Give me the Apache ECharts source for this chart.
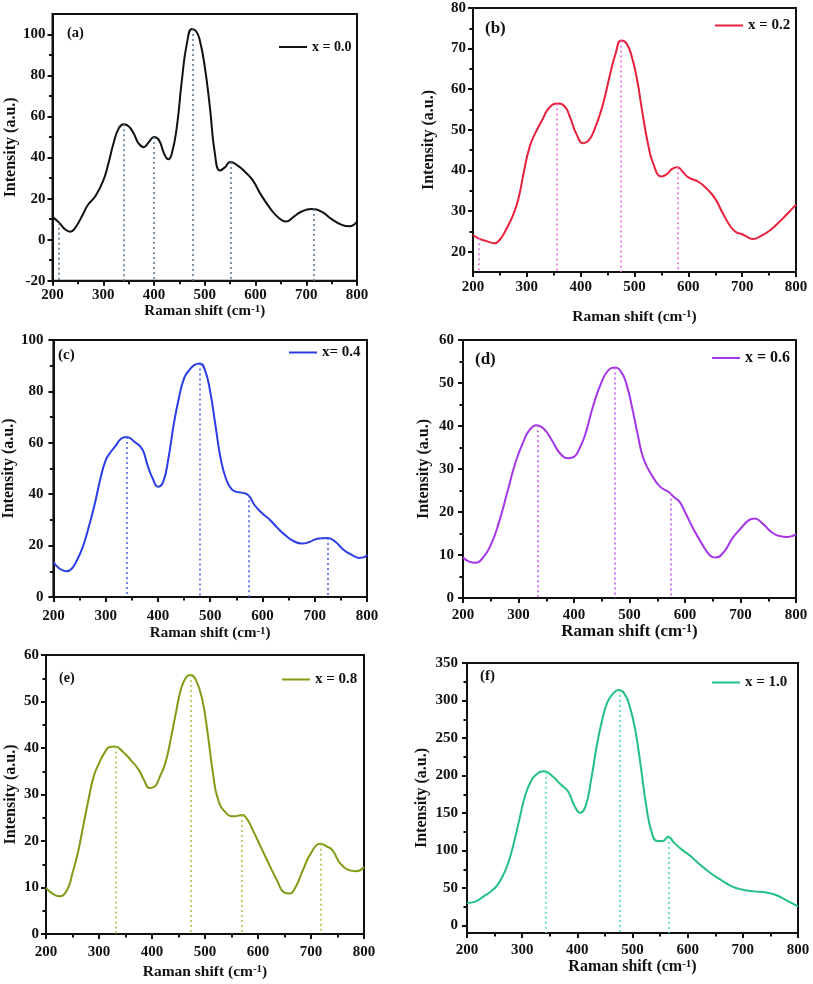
<!DOCTYPE html>
<html>
<head>
<meta charset="utf-8">
<script src="https://cdn.jsdelivr.net/npm/echarts@6/dist/echarts.min.js"></script>
<style>html,body{margin:0;padding:0;background:#fff;}#c{width:813px;height:984px;}</style>
</head>
<body>
<div id="c"></div>
<script>
// ---------- DATA ----------
const xTicks = [200, 300, 400, 500, 600, 700, 800];
const xMinorTicks = [250, 350, 450, 550, 650, 750];

// (a) x = 0.0
const shiftA = [200,213,225,235,245,260,270,285,300,310,320,330,340,350,360,370,380,390,400,410,420,428,435,445,455,465,475,483,490,500,510,520,530,540,550,565,580,595,610,630,645,660,675,690,710,730,750,770,785,800];
const intensityA = [11.1,8.3,5,3.9,5.9,12.4,17,21.4,28.8,37,46.8,54,56.3,55.3,51.7,46.8,45.1,47.6,50,48.4,41.9,39.2,41.9,55,77.9,95.9,102.7,101.6,97.5,84.4,64.8,41.9,33.7,35.3,37.8,36.1,32.9,28.8,22.2,14.9,10.8,8.8,11.1,13.6,14.9,13.7,10,7.2,6.5,8.8];
const peaksA = [213, 340, 400, 476, 551, 715];
const peakIntA = [8.3, 56.3, 50, 102.7, 37.8, 14.9];
const yTicksA = [-20, 0, 20, 40, 60, 80, 100];
const yMinorA = [-10, 10, 30, 50, 70, 90];

// (b) x = 0.2
const shiftB = [200,210,225,240,250,260,275,285,295,305,315,330,340,355,370,380,392,405,415,425,440,455,465,475,485,495,505,515,525,535,550,560,570,580,590,600,620,635,650,665,680,690,700,710,720,735,750,765,780,800];
const intensityB = [24.1,23.3,22.6,22.1,23,25.1,29.2,33.4,40,45.7,49,52.8,55.2,56.5,55.8,53.2,49,46.7,47.4,49.9,55.6,63.9,68.8,72,71.3,68,62.2,54,46.6,41.6,38.5,39.1,40.4,40.8,39.6,38.3,37.1,35.4,33,29.2,25.9,24.7,24.3,23.6,23.1,23.9,25.1,26.8,28.8,31.6];
const peaksB = [210, 355, 475, 580];
const peakIntB = [23.3, 56.5, 72, 40.8];
const yTicksB = [20, 30, 40, 50, 60, 70, 80];
const yMinorB = [25, 35, 45, 55, 65, 75];

// (c) x = 0.4
const shiftC = [200,212,225,235,245,255,265,280,290,300,310,320,330,340,355,370,380,390,400,410,420,430,440,450,460,470,480,490,500,510,520,530,540,550,560,573,585,600,615,630,645,660,675,690,705,725,740,755,770,785,795,800];
const intensityC = [13.6,11,10,11,14.3,18.8,25.3,37,46.1,53.2,56.5,59.1,61.7,62.3,60.4,57.5,51.3,46.1,42.9,44.8,53.9,66.9,77.3,85.1,88.3,90.3,90.9,88.3,79.9,66.9,53.9,46.1,42.2,40.9,40.6,39.6,35.7,32.5,29.9,26.6,23.8,21.7,20.8,21.4,22.7,23,21.4,18.4,16.5,15.2,15.5,16.5];
const peaksC = [340, 480, 573, 725];
const peakIntC = [62.3, 90.9, 39.6, 23];
const yTicksC = [0, 20, 40, 60, 80, 100];
const yMinorC = [10, 30, 50, 70, 90];

// (d) x = 0.6
const shiftD = [200,212,222,235,250,265,280,295,310,320,332,345,360,375,390,400,410,420,435,450,462,473,485,495,505,515,525,540,555,570,580,590,600,615,630,645,655,670,685,700,715,725,740,755,770,785,800];
const intensityD = [9.4,8.4,8.2,9.2,12.3,17.7,24.7,31.7,36.7,39.1,40.2,39.4,36.7,33.6,32.5,32.8,34.8,37.9,44.9,50.3,53,53.6,52.6,49.5,44.1,37.9,32.5,28.6,25.9,24.7,23.5,22.4,20,16.1,12.7,9.9,9.4,10.7,13.8,16.1,18.1,18.5,17.3,15.4,14.4,14.2,14.8];
const peaksD = [334, 473, 574];
const peakIntD = [40.2, 53.6, 24.3];
const yTicksD = [0, 10, 20, 30, 40, 50, 60];
const yMinorD = [5, 15, 25, 35, 45, 55];

// (e) x = 0.8
const shiftE = [200,212,225,240,250,260,270,280,290,300,310,320,330,345,360,375,385,395,405,415,425,435,445,455,465,473,483,495,505,515,525,540,555,570,580,590,605,620,635,650,660,670,685,700,718,730,740,755,770,785,800];
const intensityE = [9.9,8.7,8.1,9.5,13.1,17.4,23.1,28.8,33.9,36.7,38.9,40.2,40.3,39.2,37.4,35.3,33.1,31.4,31.7,33.9,36.7,41.7,47.5,52.8,55.3,55.7,54.6,50.3,43.2,34.6,28.8,26,25.3,25.6,24.6,22.4,18.8,15.2,11.7,8.9,8.7,9.9,13.8,17.4,19.4,18.8,18.1,15.2,13.8,13.5,14.4];
const peaksE = [331, 473, 570, 718];
const peakIntE = [40.3, 55.7, 25.6, 19.4];
const yTicksE = [0, 10, 20, 30, 40, 50, 60];
const yMinorE = [5, 15, 25, 35, 45, 55];

// (f) x = 1.0
const shiftF = [200,215,230,245,255,265,275,285,295,305,315,325,340,355,370,383,395,405,415,425,435,445,455,465,475,485,495,505,515,525,535,545,555,565,575,590,605,620,640,660,680,700,720,740,760,780,800];
const intensityF = [30,31.8,38.9,46.4,53.9,66.3,84,110.5,141.5,172.4,191,201.1,205.6,198.9,187.9,179,159.2,150.3,159.2,194.5,238.7,274.1,298.4,309.5,313.9,309.5,291.8,260.8,212.2,159.2,123.8,112.7,112.7,118.5,110.5,100.8,92.8,82.7,70.7,61,52.2,47.7,45.5,44.2,40.7,33.2,25.6];
const peaksF = [342, 476, 566];
const peakIntF = [205, 313.9, 118];
const yTicksF = [0, 50, 100, 150, 200, 250, 300, 350];
const yMinorF = [25, 75, 125, 175, 225, 275, 325];

const seriesNames = ['x = 0.0', 'x = 0.2', 'x= 0.4', 'x = 0.6', 'x = 0.8', 'x = 1.0'];
const panelLabels = ['(a)', '(b)', '(c)', '(d)', '(e)', '(f)'];

// ---------- LAYOUT / STYLE ----------
const FONT = '"Liberation Serif", "Times New Roman", serif';
const panels = [
  {shift: shiftA, inten: intensityA, peaks: peaksA, peakInt: peakIntA, yTicks: yTicksA, yMinor: yMinorA,
   ymin: -20, ymax: 110, color: '#111111', dropColor: '#5f7890',
   grid: {left: 52.5, top: 14, width: 304.5, height: 266.7},
   xLabelMargin: 6.5, xNameGap: 23, xNameSize: 15, yLabelMargin: 7, yNameGap: 29,
   legend: {left: 279, top: 40, size: 14}, label: {x: 67, y: 34, size: 14.5}},
  {shift: shiftB, inten: intensityB, peaks: peaksB, peakInt: peakIntB, yTicks: yTicksB, yMinor: yMinorB,
   ymin: 15, ymax: 80, color: '#e8203c', dropColor: '#e66ee0',
   grid: {left: 473, top: 8, width: 323, height: 264},
   xLabelMargin: 7.5, xNameGap: 37, xNameSize: 15.5, yLabelMargin: 7, yNameGap: 36,
   legend: {left: 715, top: 18, size: 15}, label: {x: 485, y: 30, size: 17}},
  {shift: shiftC, inten: intensityC, peaks: peaksC, peakInt: peakIntC, yTicks: yTicksC, yMinor: yMinorC,
   ymin: 0, ymax: 100, color: '#2a3de6', dropColor: '#4d63ec',
   grid: {left: 47, top: 340, width: 320, height: 257},
   xLabelMargin: 12, xNameGap: 29, xNameSize: 15, yLabelMargin: 10, yNameGap: 29,
   legend: {left: 289, top: 345, size: 15}, label: {x: 58, y: 357, size: 15}},
  {shift: shiftD, inten: intensityD, peaks: peaksD, peakInt: peakIntD, yTicks: yTicksD, yMinor: yMinorD,
   ymin: 0, ymax: 60, color: '#a436e8', dropColor: '#c55af0',
   grid: {left: 463, top: 340, width: 333, height: 258},
   xLabelMargin: 9.5, xNameGap: 25, xNameSize: 17, yLabelMargin: 9, yNameGap: 31,
   legend: {left: 712, top: 350, size: 16}, label: {x: 475, y: 361, size: 17}},
  {shift: shiftE, inten: intensityE, peaks: peaksE, peakInt: peakIntE, yTicks: yTicksE, yMinor: yMinorE,
   ymin: 0, ymax: 60, color: '#7e9c14', dropColor: '#a8c84a',
   grid: {left: 46, top: 655, width: 318, height: 279},
   xLabelMargin: 10.5, xNameGap: 30, xNameSize: 15.5, yLabelMargin: 7, yNameGap: 27,
   legend: {left: 282, top: 672, size: 15}, label: {x: 59, y: 680, size: 14}},
  {shift: shiftF, inten: intensityF, peaks: peaksF, peakInt: peakIntF, yTicks: yTicksF, yMinor: yMinorF,
   ymin: -10, ymax: 350, color: '#22c183', dropColor: '#4fe0a6',
   grid: {left: 467, top: 663, width: 331, height: 270},
   xLabelMargin: 9.5, xNameGap: 26, xNameSize: 16, yLabelMargin: 9, yNameGap: 37,
   legend: {left: 712, top: 675, size: 15}, label: {x: 480, y: 678, size: 15}}
];

const grids = [], xAxes = [], yAxes = [], series = [], legends = [], graphics = [];
const tickFont = {fontFamily: FONT, fontWeight: 'bold', fontSize: 15, color: '#111'};

panels.forEach((p, i) => {
  grids.push(Object.assign({show: true, borderColor: '#111', borderWidth: 2, backgroundColor: 'transparent', containLabel: false}, p.grid));
  xAxes.push({
    type: 'value', gridIndex: i, position: 'bottom', min: 200, max: 800,
    axisLine: {show: true, onZero: false, lineStyle: {color: '#111', width: 2}},
    axisTick: {show: true, customValues: xTicks, length: 5, lineStyle: {color: '#111', width: 2}},
    axisLabel: Object.assign({customValues: xTicks, margin: p.xLabelMargin}, tickFont),
    splitLine: {show: false},
    name: 'Raman shift (cm{s|-1})', nameLocation: 'middle', nameGap: p.xNameGap,
    nameTextStyle: {fontFamily: FONT, fontWeight: 'bold', fontSize: p.xNameSize, color: '#111',
      rich: {s: {fontFamily: FONT, fontWeight: 'bold', fontSize: Math.round(p.xNameSize * 0.7), color: '#111', verticalAlign: 'top'}}}
  });
  xAxes.push({
    type: 'value', gridIndex: i, position: 'bottom', min: 200, max: 800,
    axisLine: {show: false, onZero: false},
    axisTick: {show: true, customValues: xMinorTicks, length: 3.5, lineStyle: {color: '#111', width: 2}},
    axisLabel: {show: false}, splitLine: {show: false}
  });
  yAxes.push({
    type: 'value', gridIndex: i, position: 'left', min: p.ymin, max: p.ymax,
    axisLine: {show: true, onZero: false, lineStyle: {color: '#111', width: 2}},
    axisTick: {show: true, customValues: p.yTicks, length: 5, lineStyle: {color: '#111', width: 2}},
    axisLabel: Object.assign({customValues: p.yTicks, margin: p.yLabelMargin}, tickFont),
    splitLine: {show: false},
    name: 'Intensity (a.u.)', nameLocation: 'middle', nameGap: p.yNameGap,
    nameTextStyle: {fontFamily: FONT, fontWeight: 'bold', fontSize: 16, color: '#111'}
  });
  yAxes.push({
    type: 'value', gridIndex: i, position: 'left', min: p.ymin, max: p.ymax,
    axisLine: {show: false, onZero: false},
    axisTick: {show: true, customValues: p.yMinor, length: 3.5, lineStyle: {color: '#111', width: 2}},
    axisLabel: {show: false}, splitLine: {show: false}
  });

  const dropData = p.peaks.map((px, k) => [
    {coord: [px, p.peakInt[k]]},
    {coord: [px, p.ymin]}
  ]);

  series.push({
    name: seriesNames[i], type: 'line', xAxisIndex: 2 * i, yAxisIndex: 2 * i,
    data: p.shift.map((x, k) => [x, p.inten[k]]),
    smooth: 0.5, symbol: 'none', clip: true,
    lineStyle: {color: p.color, width: 2},
    itemStyle: {color: p.color},
    z: 3,
    markLine: {
      silent: true, symbol: 'none', label: {show: false}, animation: false,
      lineStyle: {color: p.dropColor, type: [2, 3], width: 1.6},
      data: dropData
    }
  });

  legends.push({
    data: [seriesNames[i]], left: p.legend.left, top: p.legend.top, padding: 0,
    icon: 'rect', itemWidth: 28, itemHeight: 2, itemGap: 5,
    selectedMode: false,
    textStyle: {fontFamily: FONT, fontWeight: 'bold', fontSize: p.legend.size, color: '#111', padding: [0, 0, 0, 0]}
  });

  graphics.push({
    type: 'text', left: p.label.x, top: p.label.y - p.label.size * 0.6,
    style: {text: panelLabels[i], font: 'bold ' + p.label.size + 'px ' + FONT, fill: '#111'}
  });
});

const chart = echarts.init(document.getElementById('c'), null, {renderer: 'canvas'});
chart.setOption({
  animation: false,
  backgroundColor: '#ffffff',
  grid: grids,
  xAxis: xAxes,
  yAxis: yAxes,
  legend: legends,
  series: series,
  graphic: graphics
});
</script>
</body>
</html>
